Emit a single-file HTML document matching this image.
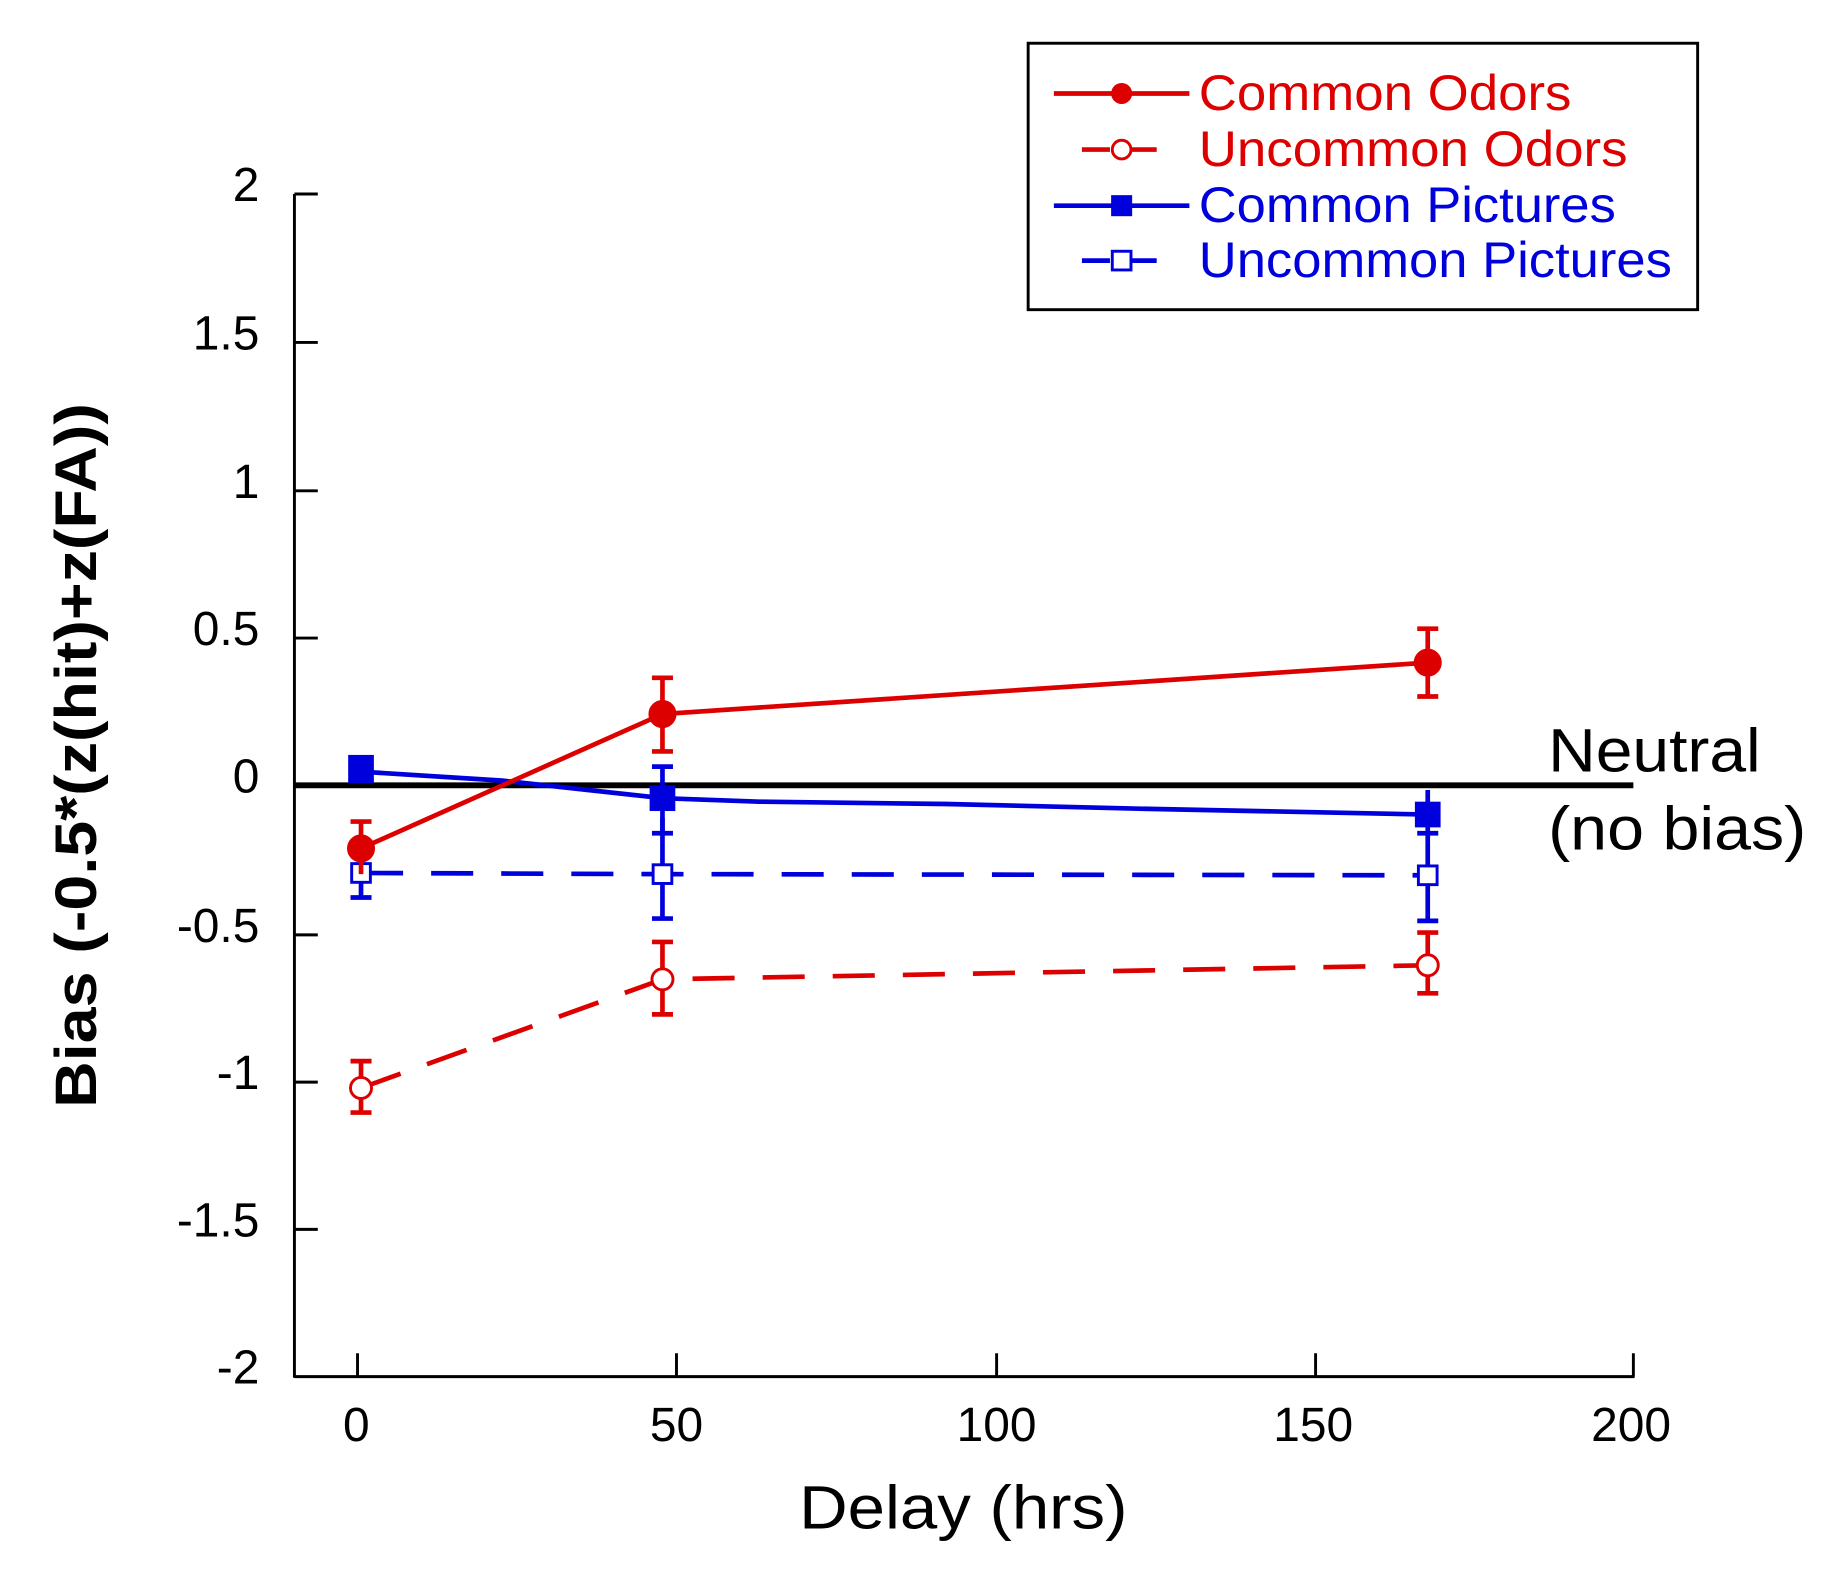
<!DOCTYPE html>
<html><head><style>
html,body{margin:0;padding:0;background:#fff;}
svg{display:block;}
text{font-family:"Liberation Sans",sans-serif;}
</style></head><body>
<svg width="1832" height="1594" viewBox="0 0 1568 1364" preserveAspectRatio="none" xmlns="http://www.w3.org/2000/svg">
<rect width="1568" height="1364" fill="#fff"/>
<g stroke="#000" stroke-width="2.5" fill="none">
<line x1="252" y1="166" x2="252" y2="1179"/>
<line x1="252" y1="1178" x2="1399" y2="1178"/>
<line x1="252" y1="166" x2="272" y2="166"/>
<line x1="252" y1="293" x2="272" y2="293"/>
<line x1="252" y1="420" x2="272" y2="420"/>
<line x1="252" y1="546" x2="272" y2="546"/>
<line x1="252" y1="800" x2="272" y2="800"/>
<line x1="252" y1="926" x2="272" y2="926"/>
<line x1="252" y1="1052" x2="272" y2="1052"/>
<line x1="306" y1="1178" x2="306" y2="1158"/>
<line x1="579" y1="1178" x2="579" y2="1158"/>
<line x1="853" y1="1178" x2="853" y2="1158"/>
<line x1="1126" y1="1178" x2="1126" y2="1158"/>
<line x1="1398" y1="1178" x2="1398" y2="1158"/>
</g>
<g font-size="41" fill="#000" text-anchor="end">
<text x="222" y="172">2</text>
<text x="222" y="299">1.5</text>
<text x="222" y="426">1</text>
<text x="222" y="552">0.5</text>
<text x="222" y="678">0</text>
<text x="222" y="806">-0.5</text>
<text x="222" y="932">-1</text>
<text x="222" y="1058">-1.5</text>
<text x="222" y="1184">-2</text>
</g>
<g font-size="41" fill="#000" text-anchor="middle">
<text x="305" y="1233">0</text>
<text x="579" y="1233">50</text>
<text x="853" y="1233">100</text>
<text x="1124" y="1233">150</text>
<text x="1396" y="1233">200</text>
</g>
<text x="684" y="1308" font-size="52" textLength="281" lengthAdjust="spacingAndGlyphs">Delay (hrs)</text>
<text transform="translate(82,948) rotate(-90)" font-size="50" font-weight="bold" textLength="603" lengthAdjust="spacingAndGlyphs">Bias (-0.5*(z(hit)+z(FA))</text>
<line x1="252" y1="672" x2="1398" y2="672" stroke="#000" stroke-width="5"/>
<text x="1325" y="660" font-size="52" textLength="182" lengthAdjust="spacingAndGlyphs">Neutral</text>
<text x="1325" y="727" font-size="52" textLength="221" lengthAdjust="spacingAndGlyphs">(no bias)</text>
<g stroke="#0000dd" stroke-width="4" fill="none">
<polyline points="309,747 567,748 1222,749" stroke-dasharray="36,24"/>
<line x1="309" y1="733" x2="309" y2="768"/><line x1="300" y1="768" x2="318" y2="768"/>
<line x1="567" y1="700" x2="567" y2="786"/><line x1="558" y1="786" x2="576" y2="786"/>
<line x1="1222" y1="711" x2="1222" y2="788"/><line x1="1213" y1="788" x2="1231" y2="788"/>
<rect x="301" y="739" width="16" height="16" stroke-width="2.5" fill="#fff"/>
<rect x="559" y="740" width="16" height="16" stroke-width="2.5" fill="#fff"/>
<rect x="1214" y="741" width="16" height="16" stroke-width="2.5" fill="#fff"/>
</g>
<g stroke="#0000dd" stroke-width="4" fill="none">
<polyline points="309,656 320,661 430,668 567,683 650,686 810,688 975,692 1222,697"/>
<line x1="567" y1="656" x2="567" y2="713"/><line x1="558" y1="656" x2="576" y2="656"/><line x1="558" y1="713" x2="576" y2="713"/>
<line x1="1222" y1="676" x2="1222" y2="713"/><line x1="1213" y1="713" x2="1231" y2="713"/>
<rect x="300" y="648" width="18" height="20" fill="#0000dd"/>
<rect x="558" y="674" width="18" height="18" fill="#0000dd"/>
<rect x="1213" y="688" width="18" height="18" fill="#0000dd"/>
</g>
<g stroke="#dd0000" stroke-width="4" fill="none">
<polyline points="309,931 567,838 1222,826" stroke-dasharray="36,24"/>
<line x1="309" y1="908" x2="309" y2="952"/><line x1="300" y1="908" x2="318" y2="908"/><line x1="300" y1="952" x2="318" y2="952"/>
<line x1="567" y1="806" x2="567" y2="868"/><line x1="558" y1="806" x2="576" y2="806"/><line x1="558" y1="868" x2="576" y2="868"/>
<line x1="1222" y1="798" x2="1222" y2="850"/><line x1="1213" y1="798" x2="1231" y2="798"/><line x1="1213" y1="850" x2="1231" y2="850"/>
<circle cx="309" cy="931" r="9" stroke-width="2.5" fill="#fff"/>
<circle cx="567" cy="838" r="9" stroke-width="2.5" fill="#fff"/>
<circle cx="1222" cy="826" r="9" stroke-width="2.5" fill="#fff"/>
</g>
<g stroke="#dd0000" stroke-width="4" fill="none">
<polyline points="309,726 567,611 1222,567"/>
<line x1="309" y1="703" x2="309" y2="748"/><line x1="300" y1="703" x2="318" y2="703"/>
<line x1="567" y1="580" x2="567" y2="643"/><line x1="558" y1="580" x2="576" y2="580"/><line x1="558" y1="643" x2="576" y2="643"/>
<line x1="1222" y1="538" x2="1222" y2="596"/><line x1="1213" y1="538" x2="1231" y2="538"/><line x1="1213" y1="596" x2="1231" y2="596"/>
<circle cx="309" cy="726" r="10" fill="#dd0000"/>
<circle cx="567" cy="611" r="10" fill="#dd0000"/>
<circle cx="1222" cy="567" r="10" fill="#dd0000"/>
</g>
<rect x="880" y="37" width="573" height="228" fill="#fff" stroke="#000" stroke-width="2.5"/>
<g stroke-width="4" fill="none">
<line x1="902" y1="80" x2="1018" y2="80" stroke="#dd0000"/>
<circle cx="960" cy="80" r="9" fill="#dd0000" stroke="none"/>
<line x1="926" y1="128" x2="1006" y2="128" stroke="#dd0000" stroke-dasharray="24,16"/>
<circle cx="960" cy="128" r="8" fill="#fff" stroke="#dd0000" stroke-width="2.5"/>
<line x1="902" y1="176" x2="1018" y2="176" stroke="#0000dd"/>
<rect x="951" y="167" width="18" height="18" fill="#0000dd" stroke="none"/>
<line x1="926" y1="223" x2="1006" y2="223" stroke="#0000dd" stroke-dasharray="24,16"/>
<rect x="952" y="215" width="16" height="16" fill="#fff" stroke="#0000dd" stroke-width="2.5"/>
</g>
<g font-size="43" lengthAdjust="spacingAndGlyphs">
<text x="1026" y="94" fill="#dd0000" textLength="319" lengthAdjust="spacingAndGlyphs">Common Odors</text>
<text x="1026" y="142" fill="#dd0000" textLength="367" lengthAdjust="spacingAndGlyphs">Uncommon Odors</text>
<text x="1026" y="190" fill="#0000dd" textLength="357" lengthAdjust="spacingAndGlyphs">Common Pictures</text>
<text x="1026" y="237" fill="#0000dd" textLength="405" lengthAdjust="spacingAndGlyphs">Uncommon Pictures</text>
</g>
</svg>
</body></html>
